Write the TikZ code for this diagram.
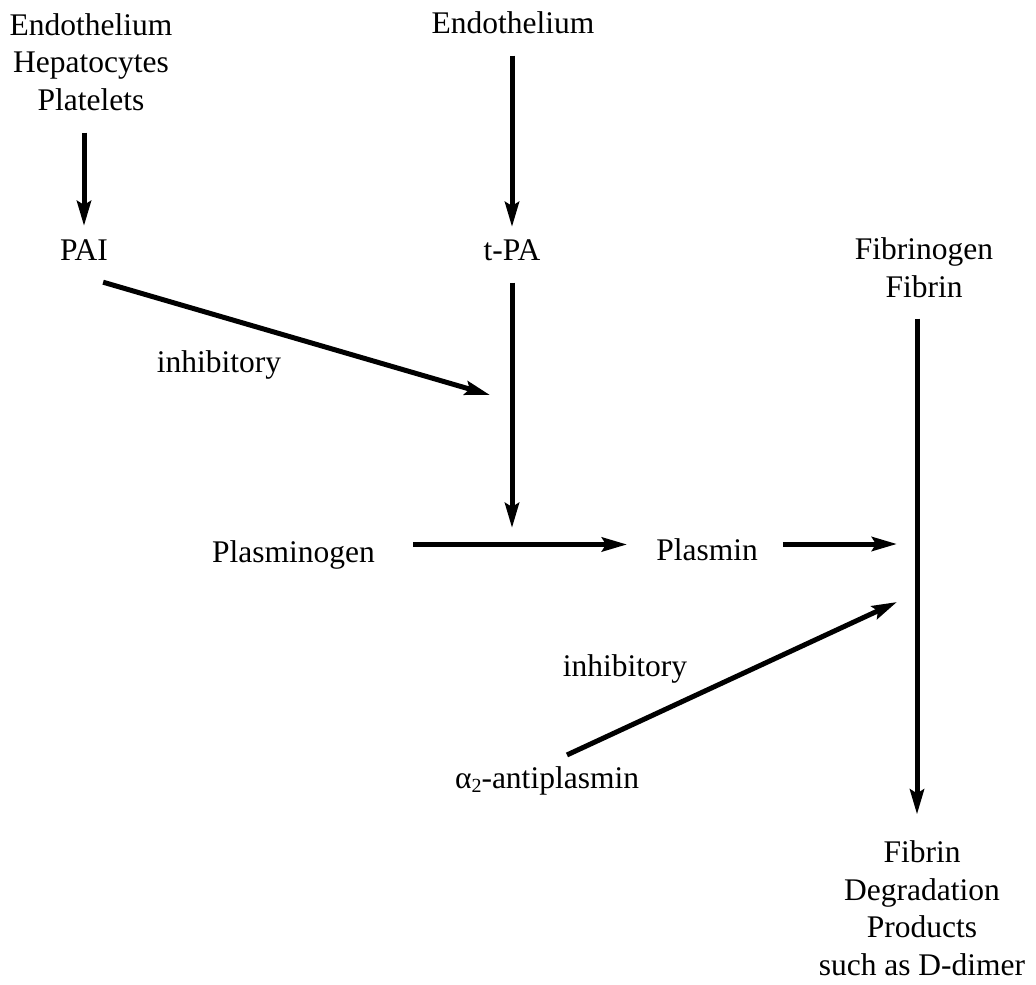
\documentclass[tikz,border=0pt]{standalone}
\usepackage{fontspec}
\setmainfont{Liberation Serif}
\usetikzlibrary{arrows.meta,calc}

\begin{document}
\begin{tikzpicture}[x=1pt,y=-1pt,
  lbl/.style={inner sep=0pt, anchor=base, align=center,
    font=\fontsize{31.5}{37.5}\selectfont},
  arr/.style={line width=5pt,
    -{Stealth[length=25pt,width=14pt,inset=4pt]}}]
  % page frame
  \useasboundingbox (0,0) rectangle (1036,985);

  % sources and intermediates (multi-line nodes sit on their last line)
  \node[lbl] (tl)   at (91,110)   {Endothelium\\Hepatocytes\\Platelets};
  \node[lbl] (endo) at (513,33)   {Endothelium};
  \node[lbl] (pai)  at (84,260)   {PAI};
  \node[lbl] (tpa)  at (512,260)  {t-PA};
  \node[lbl] (fib)  at (924,297)  {Fibrinogen\\Fibrin};
  \node[lbl] (inhA) at (219,372)  {inhibitory};
  \node[lbl] (plg)  at (293.5,562){Plasminogen};
  \node[lbl] (plm)  at (707,560)  {Plasmin};
  \node[lbl] (inhB) at (625,676)  {inhibitory};
  \node[lbl] (a2)   at (547,788)
    {α\raisebox{-0.3ex}{\fontsize{20}{20}\selectfont 2}-antiplasmin};
  \node[lbl] (fdp)  at (922,975)
    {Fibrin\\Degradation\\Products\\such as D-dimer};

  % free arrow ends
  \coordinate (junc)   at (512,528);
  \coordinate (inhtip) at (490,395);
  \coordinate (lysA)   at (897,544);
  \coordinate (lysB)   at (897,602);

  % production
  \draw[arr, shorten <=22pt, shorten >=13pt] (pai.north |- tl.south) -- (pai.north);
  \draw[arr, shorten <=22pt, shorten >=12pt] (tpa.north |- endo.south) -- (tpa.north);

  % activation of plasminogen
  \draw[arr, shorten <=22pt] (tpa.south) -- (junc);
  \draw[arr] ([shift={(-5,22)}]pai.south east) -- (inhtip);
  \draw[arr, shorten <=38pt, shorten >=29pt]
    ([yshift=10pt]plg.east) -- ([yshift=10pt]plg.east -| plm.west);

  % lysis
  \draw[arr, shorten <=25pt] (plm.east |- lysA) -- (lysA);
  \draw[arr] ([shift={(20,-11)}]a2.north) -- (lysB);
  \draw[arr, shorten <=21pt, shorten >=26pt]
    ([xshift=-5pt]fdp.north |- fib.south) -- ([xshift=-5pt]fdp.north);
\end{tikzpicture}
\end{document}
